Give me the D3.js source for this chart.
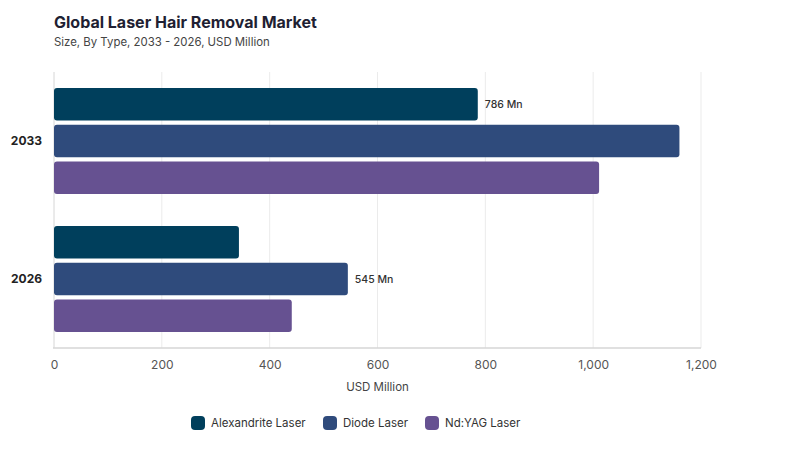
<!DOCTYPE html>
<html><head><meta charset="utf-8">
<script src="https://cdn.jsdelivr.net/npm/d3@7"></script>
<style>body{margin:0;background:#fff;font-family:Inter,"Noto Sans",sans-serif;}</style>
</head><body>
<svg id="c" width="800" height="450"></svg>
<script>
const years = ["2033", "2026"];
const seriesNames = ["Alexandrite Laser", "Diode Laser", "Nd:YAG Laser"];
const alexandrite = [786, 343];
const diode = [1160, 545];
const ndyag = [1011, 441];
const xTicks = [0, 200, 400, 600, 800, 1000, 1200];
const colors = ["#003f5c", "#2f4b7c", "#665191"];
const labels = [{year: "2033", series: 0, text: "786 Mn"}, {year: "2026", series: 1, text: "545 Mn"}];

const values = [alexandrite, diode, ndyag];
const svg = d3.select("#c");
const m = {l: 54, r: 701, t: 72, b: 348};

svg.append("text").attr("x", 54).attr("y", 28).text("Global Laser Hair Removal Market")
  .attr("font-size", 16).attr("font-weight", 700).attr("fill", "#1f1f33");
svg.append("text").attr("x", 54).attr("y", 46).text("Size, By Type, 2033 - 2026, USD Million")
  .attr("font-size", 11.4).attr("fill", "#444");

const x = d3.scaleLinear().domain([0, 1200]).range([m.l, m.r]);
const y0 = d3.scaleBand().domain(years).range([m.t, m.b]).paddingInner(0.232).paddingOuter(0.116);
const y1 = d3.scaleBand().domain(d3.range(3)).range([0, y0.bandwidth()]).paddingInner(0.12);

// grid
svg.append("g").selectAll("line").data(xTicks.slice(1)).join("line")
  .attr("x1", d => x(d)).attr("x2", d => x(d)).attr("y1", m.t).attr("y2", m.b)
  .attr("stroke", "#ebebeb").attr("stroke-width", 1);
svg.append("line").attr("x1", m.l).attr("x2", m.l).attr("y1", m.t).attr("y2", m.b)
  .attr("stroke", "#d6d6d6").attr("stroke-width", 1);

// bars
years.forEach((yr, i) => {
  values.forEach((s, j) => {
    svg.append("rect")
      .attr("x", x(0)).attr("y", y0(yr) + y1(j))
      .attr("width", x(s[i]) - x(0)).attr("height", y1.bandwidth())
      .attr("rx", 3).attr("fill", colors[j]);
  });
});

labels.forEach(l => {
  const i = years.indexOf(l.year);
  svg.append("text").attr("x", x(values[l.series][i]) + 7)
    .attr("y", y0(l.year) + y1(l.series) + y1.bandwidth() / 2 + 4)
    .text(l.text).attr("font-size", 10.5).attr("font-weight", 500).attr("fill", "#333");
});

// axis line
svg.append("line").attr("x1", m.l - 1).attr("x2", m.r).attr("y1", m.b).attr("y2", m.b)
  .attr("stroke", "#d6d6d6").attr("stroke-width", 1.5);

// x tick labels
const xa = svg.append("g").attr("transform", `translate(0,${m.b})`)
  .call(d3.axisBottom(x).tickValues(xTicks).tickSize(0).tickPadding(12).tickFormat(d3.format(",")));
xa.select(".domain").remove();
xa.selectAll("text").attr("font-size", 12).attr("fill", "#555").attr("font-family", "Inter,'Noto Sans',sans-serif");

// y labels
const ya = svg.append("g").attr("transform", `translate(${m.l},0)`)
  .call(d3.axisLeft(y0).tickSize(0).tickPadding(12));
ya.select(".domain").remove();
ya.selectAll("text").attr("font-size", 12).attr("font-weight", 700).attr("fill", "#222").attr("font-family", "Inter,'Noto Sans',sans-serif");

svg.append("text").attr("x", (m.l + m.r) / 2).attr("y", 391).attr("text-anchor", "middle")
  .text("USD Million").attr("font-size", 11.5).attr("fill", "#444");

// legend
const legX = [191, 323, 425];
const lg = svg.append("g");
seriesNames.forEach((n, j) => {
  lg.append("rect").attr("x", legX[j]).attr("y", 416).attr("width", 14).attr("height", 14)
    .attr("rx", 4).attr("fill", colors[j]);
  lg.append("text").attr("x", legX[j] + 20).attr("y", 427).text(n)
    .attr("font-size", 11.5).attr("fill", "#333");
});
</script>
</body></html>
